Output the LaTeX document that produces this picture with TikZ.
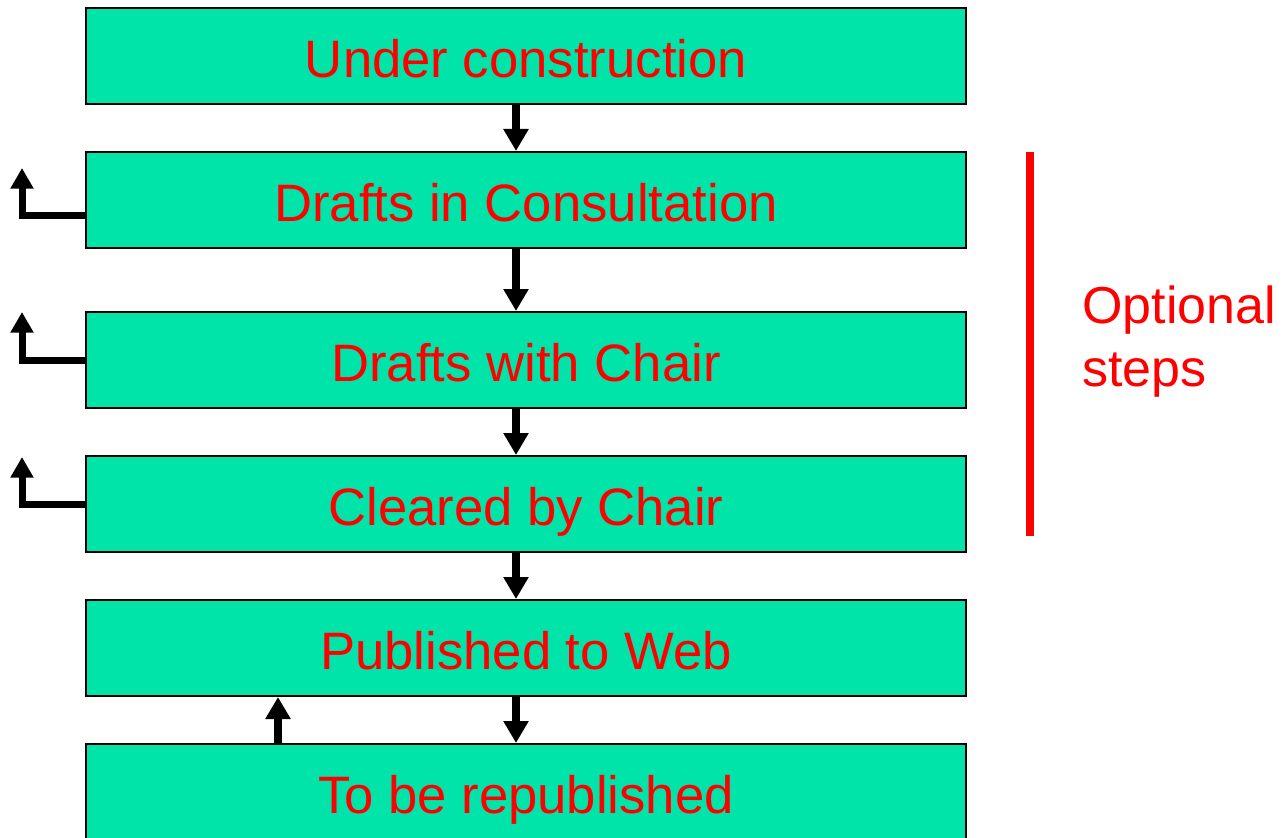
\documentclass[tikz,border=0pt]{standalone}
\usepackage{fontspec}
\setmainfont{Liberation Sans}
\usetikzlibrary{arrows.meta,calc}
\definecolor{boxfill}{RGB}{0,228,170}
\definecolor{txtred}{RGB}{255,0,0}
\begin{document}
\begin{tikzpicture}[x=0.75pt,y=-0.75pt,
  stagebox/.style={draw=black,line width=1.5pt,fill=boxfill,minimum width=660pt,minimum height=72pt,
    inner sep=0pt,text=txtred,font=\fontsize{39.5}{42}\selectfont,text height=32pt,text depth=0pt},
  flow/.style={line width=6pt,-{Triangle[width=18pt,length=16.5pt]}},
  back/.style={line width=5.25pt,-{Triangle[width=16.5pt,length=15.5pt]}}]
\useasboundingbox (0,0) rectangle (1284,838);
\node[stagebox] (b1) at (526,56) {Under construction};
\node[stagebox] (b2) at (526,200) {Drafts in Consultation};
\node[stagebox] (b3) at (526,360) {Drafts with Chair};
\node[stagebox] (b4) at (526,504) {Cleared by Chair};
\node[stagebox] (b5) at (526,648) {Published to Web};
\node[stagebox] (b6) at (526,792) {To be republished};
% down arrows
\foreach \a/\b in {b1/b2,b2/b3,b3/b4,b4/b5,b5/b6}{
  \draw[flow] ($(\a.south)+(-10,0)$) -- ($(\b.north)+(-10,0)$);
}
% up arrow
\draw[flow] ($(b6.north)+(-248,0)$) -- ($(b5.south)+(-248,0)$);
% back loops
\coordinate (t2) at (22,168);
\coordinate (t3) at (22,312);
\coordinate (t4) at (22,457);
\draw[back] ($(b2.west)+(0,15)$) -| (t2);
\draw[back] (b3.west) -| (t3);
\draw[back] (b4.west) -| (t4);
% optional steps bar
\coordinate (r1) at (1030,152);
\coordinate (r2) at (1030,536);
\draw[txtred,line width=6pt] (r1) -- (r2);
\node[anchor=north west,inner sep=0pt,text=txtred,font=\fontsize{39}{47}\selectfont,align=left] (opt) at (1082,286) {Optional\\steps};
\end{tikzpicture}
\end{document}
